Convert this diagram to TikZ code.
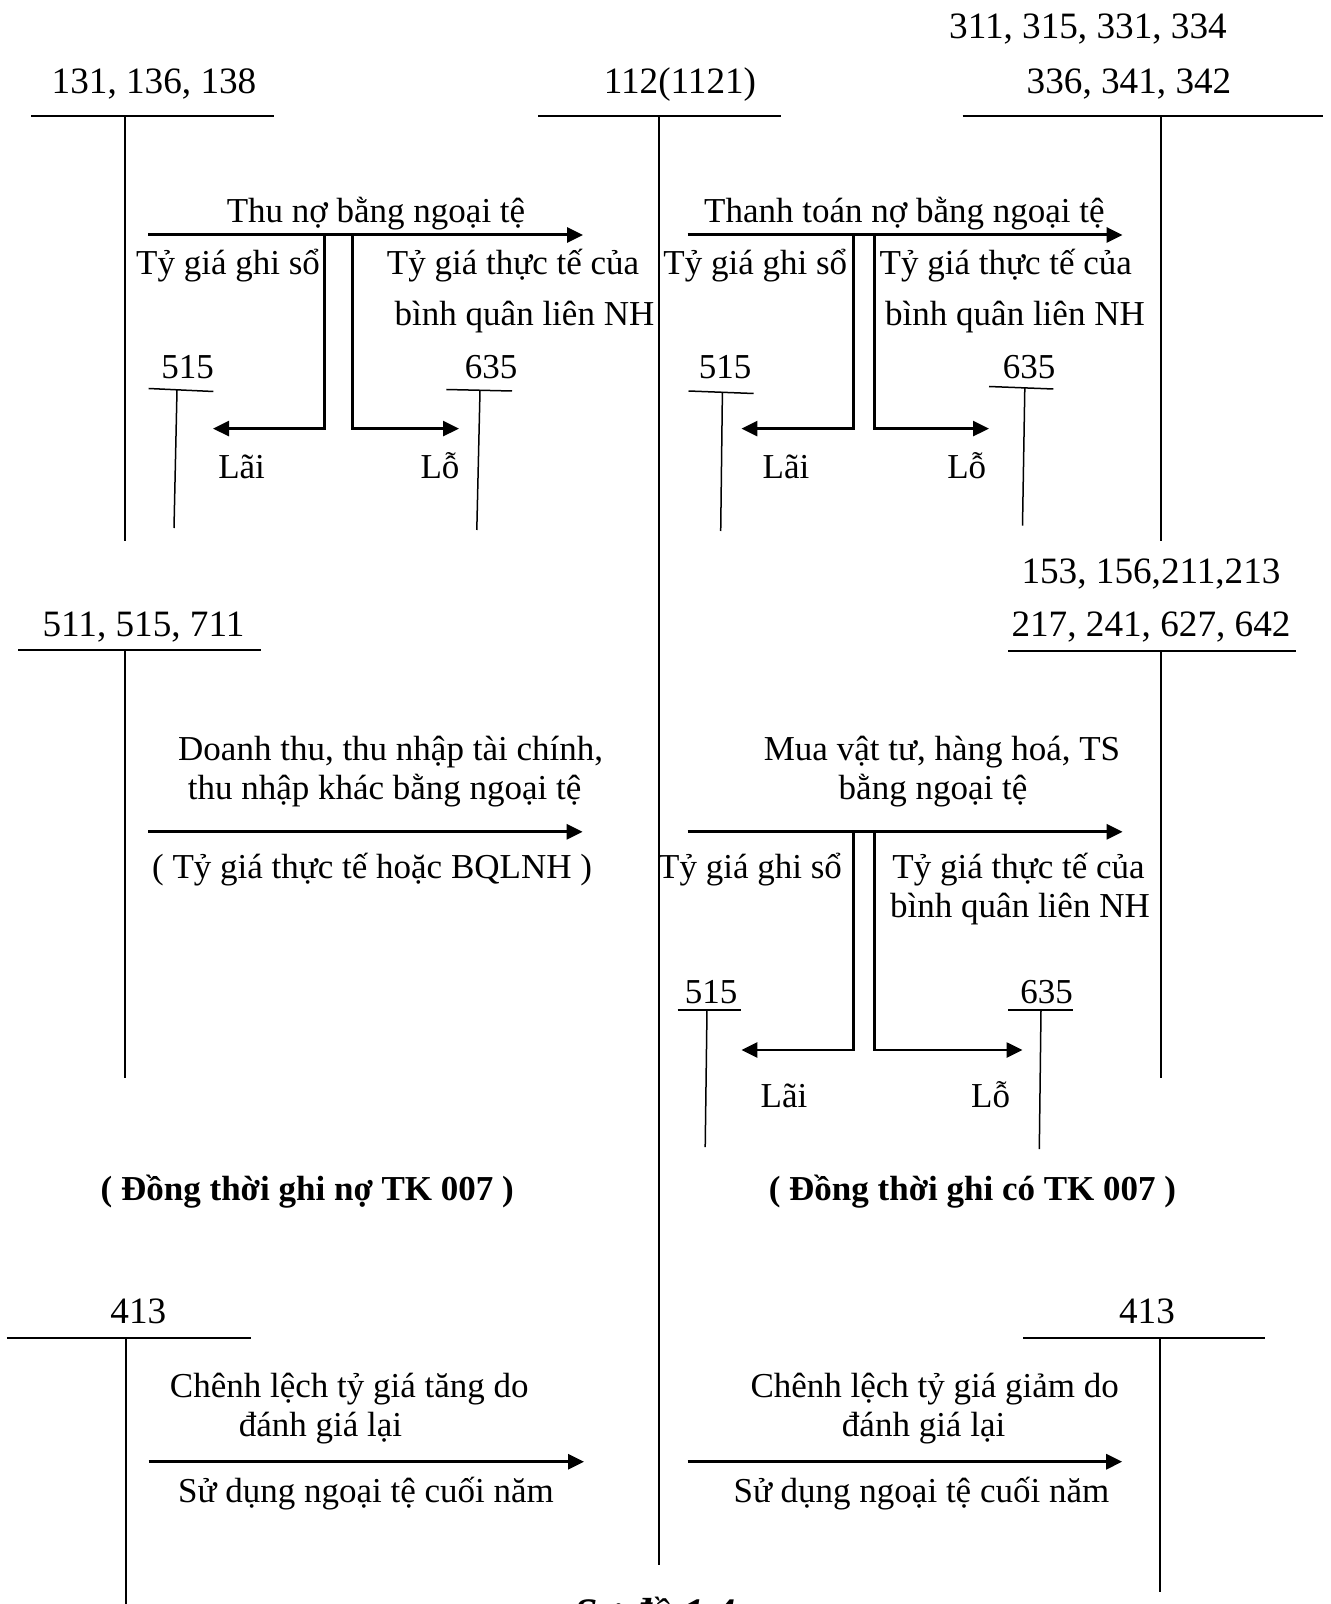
\documentclass[tikz,border=0pt]{standalone}
\usepackage{fontspec}
\setmainfont{Liberation Serif}
\usetikzlibrary{arrows.meta}
\tikzset{
  lbl/.style={font=\fontsize{17.5}{21}\selectfont, inner sep=0pt, anchor=base},
  acclbl/.style={font=\fontsize{18.6}{22}\selectfont, inner sep=0pt, anchor=base},
  boldlbl/.style={font=\fontsize{17.5}{21}\selectfont\bfseries, inner sep=0pt, anchor=base},
  tline/.style={line width=1pt},
  sline/.style={line width=0.75pt},
  flow/.style={line width=1.5pt, -{Triangle[length=8pt,width=7.5pt]}},
  branch/.style={line width=1.3pt, -{Triangle[length=8pt,width=7.5pt]}},
}
\begin{document}
\begin{tikzpicture}[x=0.5pt,y=-0.5pt]
\useasboundingbox (0,0) rectangle (1331,1604);
\clip (0,0) rectangle (1331,1604);
\fill[white] (0,0) rectangle (1331,1604);

% ---------- T accounts (top row) ----------
\node[acclbl] (tA) at (154,94) {131, 136, 138};
\coordinate (tAl) at (31,115.6); \coordinate (tAr) at (274,115.6);
\coordinate (tAt) at (125,115.6); \coordinate (tAb) at (125,541);
\draw[tline] (tAl) -- (tAr); \draw[tline] (tAt) -- (tAb);

\node[acclbl] (tB) at (680,94) {112(1121)};
\coordinate (tBl) at (538,115.6); \coordinate (tBr) at (781,115.6);
\coordinate (tBt) at (659,115.6); \coordinate (tBb) at (659,1565);
\draw[tline] (tBl) -- (tBr); \draw[tline] (tBt) -- (tBb);

\node[acclbl] (tC1) at (1088,38.6) {311, 315, 331, 334};
\node[acclbl] (tC2) at (1129,93.6) {336, 341, 342};
\coordinate (tCl) at (962.6,115.6); \coordinate (tCr) at (1323,115.6);
\coordinate (tCt) at (1161,115.6); \coordinate (tCb) at (1161,541);
\draw[tline] (tCl) -- (tCr); \draw[tline] (tCt) -- (tCb);

% ---------- Group 1 : Thu no ----------
\node[lbl] (g1t) at (376,223) {Thu nợ bằng ngoại tệ};
\coordinate (g1s) at (148,235); \coordinate (g1e) at (583,235);
\draw[flow] (g1s) -- (g1e);
\coordinate (g1a) at (324.6,235); \coordinate (g1b) at (213,428.6);
\coordinate (g1c) at (352.7,235); \coordinate (g1d) at (459,428.6);
\draw[branch] (g1a) |- (g1b);
\draw[branch] (g1c) |- (g1d);
\node[lbl] (g1gs) at (228,275) {Tỷ giá ghi sổ};
\node[lbl] (g1tt) at (513,275) {Tỷ giá thực tế của};
\node[lbl] (g1bq) at (524.5,325.7) {bình quân liên NH};
\node[lbl] (g1k5) at (187.5,378.6) {515};
\coordinate (g1k5l) at (148.7,388.5); \coordinate (g1k5r) at (213.4,391.5);
\coordinate (g1k5t) at (177,390); \coordinate (g1k5b) at (174,528);
\draw[sline] (g1k5l) -- (g1k5r); \draw[sline] (g1k5t) -- (g1k5b);
\node[lbl] (g1k6) at (491,378.6) {635};
\coordinate (g1k6l) at (446.4,389.5); \coordinate (g1k6r) at (512,391);
\coordinate (g1k6t) at (480,390.5); \coordinate (g1k6b) at (476.8,530);
\draw[sline] (g1k6l) -- (g1k6r); \draw[sline] (g1k6t) -- (g1k6b);
\node[lbl] (g1lai) at (241.6,478.6) {Lãi};
\node[lbl] (g1lo) at (440,478.6) {Lỗ};

% ---------- Group 2 : Thanh toan no ----------
\node[lbl] (g2t) at (904.4,223) {Thanh toán nợ bằng ngoại tệ};
\coordinate (g2s) at (687.6,235); \coordinate (g2e) at (1122.6,235);
\draw[flow] (g2s) -- (g2e);
\coordinate (g2a) at (853.3,235); \coordinate (g2b) at (741.4,428.6);
\coordinate (g2c) at (874.5,235); \coordinate (g2d) at (989,428.6);
\draw[branch] (g2a) |- (g2b);
\draw[branch] (g2c) |- (g2d);
\node[lbl] (g2gs) at (755.3,275) {Tỷ giá ghi sổ};
\node[lbl] (g2tt) at (1005.8,275) {Tỷ giá thực tế của};
\node[lbl] (g2bq) at (1015,325.7) {bình quân liên NH};
\node[lbl] (g2k5) at (725,378.6) {515};
\coordinate (g2k5l) at (688.5,391); \coordinate (g2k5r) at (753.7,393.5);
\coordinate (g2k5t) at (722.4,392); \coordinate (g2k5b) at (720.7,531);
\draw[sline] (g2k5l) -- (g2k5r); \draw[sline] (g2k5t) -- (g2k5b);
\node[lbl] (g2k6) at (1029,378.6) {635};
\coordinate (g2k6l) at (989,386.5); \coordinate (g2k6r) at (1053.4,389);
\coordinate (g2k6t) at (1024.8,388); \coordinate (g2k6b) at (1022.5,525.7);
\draw[sline] (g2k6l) -- (g2k6r); \draw[sline] (g2k6t) -- (g2k6b);
\node[lbl] (g2lai) at (786,478.6) {Lãi};
\node[lbl] (g2lo) at (966.7,478.6) {Lỗ};

% ---------- Middle row T accounts ----------
\node[acclbl] (tD) at (143.5,636) {511, 515, 711};
\coordinate (tDl) at (18,650); \coordinate (tDr) at (261,650);
\coordinate (tDt) at (125,650); \coordinate (tDb) at (125,1078);
\draw[tline] (tDl) -- (tDr); \draw[tline] (tDt) -- (tDb);

\node[acclbl] (tE1) at (1151,583) {153, 156,211,213};
\node[acclbl] (tE2) at (1151,636) {217, 241, 627, 642};
\coordinate (tEl) at (1008,651); \coordinate (tEr) at (1296,651);
\coordinate (tEt) at (1161.4,651); \coordinate (tEb) at (1161.4,1078);
\draw[tline] (tEl) -- (tEr); \draw[tline] (tEt) -- (tEb);

% ---------- Group 3 : Doanh thu ----------
\node[lbl] (g3t1) at (390.6,760) {Doanh thu, thu nhập tài chính,};
\node[lbl] (g3t2) at (384.6,799) {thu nhập khác bằng ngoại tệ};
\coordinate (g3s) at (148,831.8); \coordinate (g3e) at (582.6,831.8);
\draw[flow] (g3s) -- (g3e);
\node[lbl] (g3b) at (372,878.8) {( Tỷ giá thực tế hoặc BQLNH )};

% ---------- Group 4 : Mua vat tu ----------
\node[lbl] (g4t1) at (942,760) {Mua vật tư, hàng hoá, TS};
\node[lbl] (g4t2) at (933,799) {bằng ngoại tệ};
\coordinate (g4s) at (687.6,831.8); \coordinate (g4e) at (1122.6,831.8);
\draw[flow] (g4s) -- (g4e);
\coordinate (g4a) at (853.3,831.8); \coordinate (g4b) at (741.4,1050);
\coordinate (g4c) at (874.5,831.8); \coordinate (g4d) at (1022.5,1050);
\draw[branch] (g4a) |- (g4b);
\draw[branch] (g4c) |- (g4d);
\node[lbl] (g4gs) at (750,878.8) {Tỷ giá ghi sổ};
\node[lbl] (g4tt) at (1018.5,878.8) {Tỷ giá thực tế của};
\node[lbl] (g4bq) at (1020,917.6) {bình quân liên NH};
\node[lbl] (g4k5) at (711,1003) {515};
\coordinate (g4k5l) at (677.5,1010); \coordinate (g4k5r) at (741.4,1010);
\coordinate (g4k5t) at (707,1010); \coordinate (g4k5b) at (705.2,1147);
\draw[sline] (g4k5l) -- (g4k5r); \draw[sline] (g4k5t) -- (g4k5b);
\node[lbl] (g4k6) at (1046.5,1003) {635};
\coordinate (g4k6l) at (1008,1010); \coordinate (g4k6r) at (1073.2,1010);
\coordinate (g4k6t) at (1041,1010); \coordinate (g4k6b) at (1039.3,1149);
\draw[sline] (g4k6l) -- (g4k6r); \draw[sline] (g4k6t) -- (g4k6b);
\node[lbl] (g4lai) at (784,1107) {Lãi};
\node[lbl] (g4lo) at (990.6,1107) {Lỗ};

% ---------- notes ----------
\node[boldlbl] (n1) at (307.3,1200) {( Đồng thời ghi nợ TK 007 )};
\node[boldlbl] (n2) at (972.4,1200) {( Đồng thời ghi có TK 007 )};

% ---------- Bottom row ----------
\node[acclbl] (tF) at (138.3,1323) {413};
\coordinate (tFl) at (6.8,1337.7); \coordinate (tFr) at (251.3,1337.7);
\coordinate (tFt) at (125.6,1337.7); \coordinate (tFb) at (125.6,1610);
\draw[tline] (tFl) -- (tFr); \draw[tline] (tFt) -- (tFb);

\node[acclbl] (tG) at (1147,1323) {413};
\coordinate (tGl) at (1023,1337.7); \coordinate (tGr) at (1265,1337.7);
\coordinate (tGt) at (1160.4,1337.7); \coordinate (tGb) at (1160.4,1591.7);
\draw[tline] (tGl) -- (tGr); \draw[tline] (tGt) -- (tGb);

\node[lbl] (g5t1) at (349.3,1397) {Chênh lệch tỷ giá tăng do};
\node[lbl] (g5t2) at (320.5,1436) {đánh giá lại};
\coordinate (g5s) at (148.6,1461.7); \coordinate (g5e) at (584,1461.7);
\draw[flow] (g5s) -- (g5e);
\node[lbl] (g5b) at (366,1502.7) {Sử dụng ngoại tệ cuối năm};

\node[lbl] (g6t1) at (934.7,1397) {Chênh lệch tỷ giá giảm do};
\node[lbl] (g6t2) at (923.6,1436) {đánh giá lại};
\coordinate (g6s) at (687.6,1461.7); \coordinate (g6e) at (1122.2,1461.7);
\draw[flow] (g6s) -- (g6e);
\node[lbl] (g6b) at (921.4,1502.7) {Sử dụng ngoại tệ cuối năm};

% ---------- title (cut off at the lower edge, as in the reference) ----------
\node[inner sep=0pt, anchor=base, font=\fontsize{21}{25}\selectfont\bfseries\itshape] (title) at (655,1627) {Sơ đồ 1.4};
\end{tikzpicture}
\end{document}
